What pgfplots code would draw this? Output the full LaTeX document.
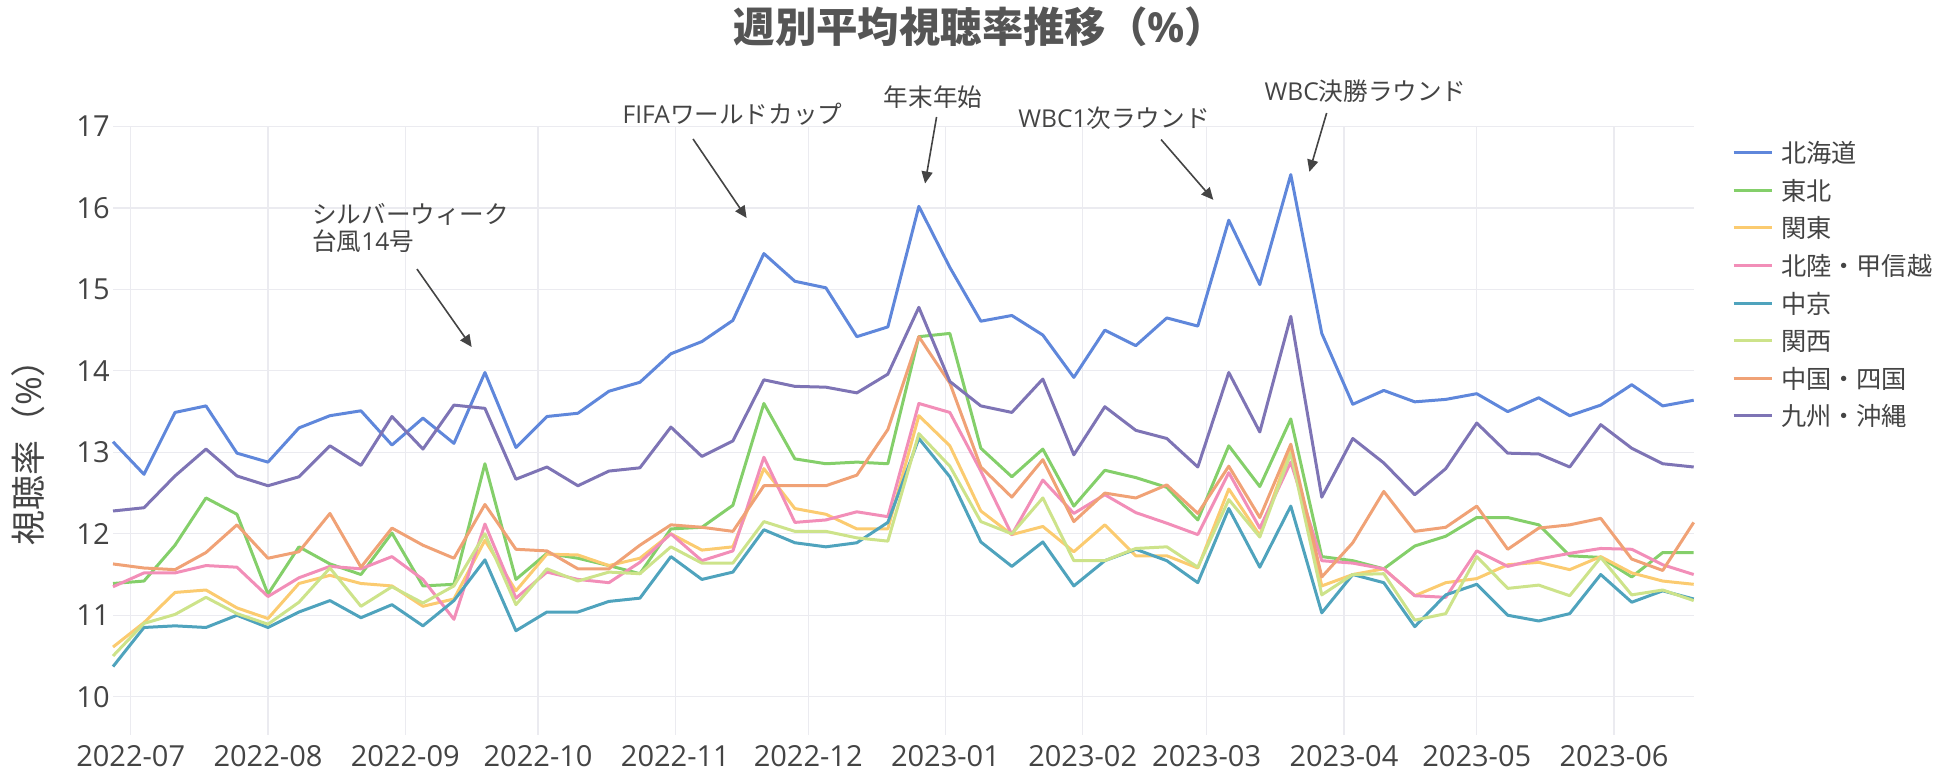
\documentclass[border=0pt]{standalone}
\usepackage{fontspec}
\setmainfont{Open Sans}
\newfontfamily\cjk{Noto Sans CJK JP}
\usepackage{pgfplots}
\pgfplotsset{compat=1.18}
\usepackage{pgfplotstable}
\usetikzlibrary{arrows.meta}

\definecolor{cHok}{HTML}{5F87DB}
\definecolor{cToh}{HTML}{84CF6A}
\definecolor{cKan}{HTML}{FBCB70}
\definecolor{cHks}{HTML}{F28EB8}
\definecolor{cChk}{HTML}{4FA3BD}
\definecolor{cKns}{HTML}{CDE38A}
\definecolor{cChs}{HTML}{F0A276}
\definecolor{cKyu}{HTML}{7E74B5}
\definecolor{gridc}{HTML}{EBEBF0}
\definecolor{txtc}{HTML}{444444}
\definecolor{titc}{HTML}{555555}

\pgfplotstableread{
d hok toh kan hks chk kns chs kyu
0 13.13 11.39 10.61 11.35 10.37 10.50 11.63 12.28
7 12.73 11.42 10.91 11.52 10.85 10.90 11.58 12.32
14 13.49 11.86 11.28 11.52 10.87 11.01 11.56 12.71
21 13.57 12.44 11.31 11.61 10.85 11.22 11.77 13.04
28 12.99 12.24 11.09 11.59 11.00 11.02 12.11 12.71
35 12.88 11.26 10.96 11.23 10.85 10.89 11.70 12.59
42 13.30 11.84 11.39 11.46 11.04 11.16 11.78 12.70
49 13.45 11.63 11.49 11.60 11.18 11.58 12.25 13.08
56 13.51 11.50 11.39 11.57 10.97 11.11 11.59 12.84
63 13.09 12.01 11.36 11.72 11.13 11.35 12.07 13.44
70 13.42 11.36 11.11 11.44 10.87 11.15 11.86 13.04
77 13.11 11.38 11.20 10.95 11.18 11.36 11.70 13.58
84 13.98 12.86 11.92 12.12 11.68 12.00 12.36 13.54
91 13.06 11.44 11.30 11.21 10.81 11.13 11.81 12.67
98 13.44 11.76 11.75 11.53 11.04 11.57 11.79 12.82
105 13.48 11.70 11.74 11.44 11.04 11.42 11.57 12.59
112 13.75 11.61 11.61 11.40 11.17 11.53 11.57 12.77
119 13.86 11.51 11.70 11.65 11.21 11.51 11.86 12.81
126 14.21 12.06 12.00 12.00 11.72 11.84 12.11 13.31
133 14.36 12.08 11.80 11.67 11.44 11.64 12.08 12.95
140 14.62 12.35 11.84 11.79 11.53 11.64 12.03 13.14
147 15.44 13.60 12.80 12.94 12.05 12.15 12.59 13.89
154 15.10 12.92 12.31 12.14 11.89 12.03 12.59 13.81
161 15.02 12.86 12.24 12.17 11.84 12.03 12.59 13.80
168 14.42 12.88 12.06 12.27 11.89 11.95 12.72 13.73
175 14.54 12.86 12.06 12.21 12.14 11.91 13.28 13.96
182 16.02 14.42 13.45 13.60 13.17 13.23 14.42 14.78
189 15.27 14.46 13.08 13.49 12.70 12.83 13.85 13.87
196 14.61 13.05 12.28 12.77 11.90 12.15 12.82 13.57
203 14.68 12.70 11.99 11.99 11.60 12.00 12.45 13.49
210 14.44 13.04 12.09 12.66 11.90 12.44 12.91 13.90
217 13.92 12.34 11.78 12.25 11.36 11.67 12.15 12.97
224 14.50 12.78 12.11 12.48 11.67 11.67 12.50 13.56
231 14.31 12.69 11.73 12.26 11.81 11.82 12.44 13.27
238 14.65 12.57 11.73 12.13 11.67 11.84 12.60 13.17
245 14.55 12.17 11.58 11.99 11.40 11.59 12.25 12.82
252 15.85 13.08 12.55 12.75 12.31 12.42 12.83 13.98
259 15.06 12.58 11.98 12.07 11.59 11.96 12.20 13.25
266 16.41 13.41 13.06 12.88 12.34 12.99 13.10 14.67
273 14.46 11.72 11.36 11.67 11.03 11.25 11.47 12.45
280 13.59 11.67 11.50 11.64 11.50 11.50 11.89 13.17
287 13.76 11.57 11.57 11.57 11.40 11.51 12.52 12.87
294 13.62 11.85 11.24 11.24 10.86 10.94 12.03 12.48
301 13.65 11.97 11.40 11.22 11.25 11.02 12.08 12.80
308 13.72 12.20 11.45 11.79 11.38 11.72 12.34 13.36
315 13.50 12.20 11.62 11.60 11.00 11.33 11.81 12.99
322 13.67 12.11 11.65 11.69 10.93 11.37 12.07 12.98
329 13.45 11.73 11.56 11.76 11.02 11.24 12.11 12.82
336 13.58 11.71 11.72 11.82 11.50 11.71 12.19 13.34
343 13.83 11.47 11.52 11.81 11.16 11.25 11.69 13.05
350 13.57 11.77 11.42 11.62 11.30 11.31 11.55 12.86
357 13.64 11.77 11.38 11.50 11.20 11.18 12.14 12.82
}\data

\begin{document}
\begin{tikzpicture}
\path[use as bounding box] (0,0) rectangle (975pt,389pt);
\begin{axis}[
  at={(56.5pt,21.5pt)}, anchor=south west,
  scale only axis, width=790.35pt, height=304.25pt,
  xmin=0, xmax=357, ymin=9.53, ymax=17,
  axis line style={draw=none},
  major tick length=0pt,
  xtick={4,35,66,96,127,157,188,219,247,278,308,339},
  xticklabels={2022-07,2022-08,2022-09,2022-10,2022-11,2022-12,2023-01,2023-02,2023-03,2023-04,2023-05,2023-06},
  ytick={10,11,12,13,14,15,16,17},
  grid=major,
  major grid style={draw=gridc, line width=0.6pt},
  tick label style={font=\fontsize{14.5}{17}\selectfont, text=txtc},
  xticklabel style={anchor=north, inner sep=0pt, yshift=-5pt},
  yticklabel style={anchor=east, inner sep=0pt, xshift=-1.5pt},
  /pgf/number format/assume math mode=true,
  clip=false,
  every axis plot/.append style={line width=1.5pt, line join=round, no markers},
  legend style={at={(1.024,0.9806)}, anchor=north west, draw=none, fill=none,
    font=\cjk\fontsize{12.6}{15}\selectfont, text=txtc, inner sep=0pt,
    row sep=4.8pt, column sep=4pt,
    nodes={inner sep=0pt, text height=12pt, text depth=2pt}},
  legend cell align=left,
  legend image code/.code={\draw[#1, line width=1.5pt] (0pt,0pt) -- (19pt,0pt);},
]
\addplot[cHok] table[x=d, y=hok] {\data}; \addlegendentry{北海道}
\addplot[cToh] table[x=d, y=toh] {\data}; \addlegendentry{東北}
\addplot[cKan] table[x=d, y=kan] {\data}; \addlegendentry{関東}
\addplot[cHks] table[x=d, y=hks] {\data}; \addlegendentry{北陸・甲信越}
\addplot[cChk] table[x=d, y=chk] {\data}; \addlegendentry{中京}
\addplot[cKns] table[x=d, y=kns] {\data}; \addlegendentry{関西}
\addplot[cChs] table[x=d, y=chs] {\data}; \addlegendentry{中国・四国}
\addplot[cKyu] table[x=d, y=kyu] {\data}; \addlegendentry{九州・沖縄}

\begin{scope}[every node/.style={font=\fontsize{12.3}{13.75}\selectfont, text=txtc, inner sep=0pt}]
\node[anchor=west, align=left] at (axis cs:44.9,15.752) {{\cjk シルバーウィーク}\\{\cjk 台風}14{\cjk 号}};
\node at (axis cs:139.9,17.15) {FIFA{\cjk ワールドカップ}};
\node at (axis cs:185.2,17.355) {{\cjk 年末年始}};
\node at (axis cs:226.1,17.10) {WBC1{\cjk 次ラウンド}};
\node at (axis cs:282.9,17.43) {WBC{\cjk 決勝ラウンド}};
\end{scope}
\begin{scope}[draw=txtc, line width=0.8pt, -{Triangle[length=6pt,width=5.5pt]}]
\draw (axis cs:68.65,15.25) -- (axis cs:81.0,14.294);
\draw (axis cs:131.0,16.847) -- (axis cs:143.1,15.877);
\draw (axis cs:186.0,17.117) -- (axis cs:183.4,16.30);
\draw (axis cs:236.7,16.84) -- (axis cs:248.5,16.10);
\draw (axis cs:274.1,17.166) -- (axis cs:270.2,16.444);
\end{scope}
\end{axis}
\node[font=\cjk\fontsize{17.5}{17.5}\selectfont, text=txtc, rotate=90] at (14pt,167pt) {視聴率（{\fontspec{Open Sans}\%}）};
\node[font=\cjk\bfseries\fontsize{20.7}{20.7}\selectfont, text=titc] at (490pt,375.5pt) {週別平均視聴率推移（{\fontspec{Open Sans}\bfseries\%}）};
\end{tikzpicture}
\end{document}
